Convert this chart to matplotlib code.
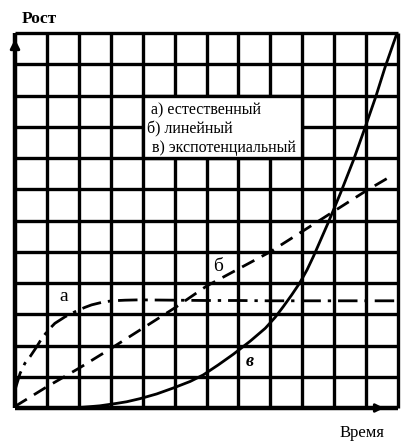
import matplotlib.pyplot as plt
from matplotlib.patches import Rectangle

plt.rcParams['font.family'] = ['Liberation Serif', 'DejaVu Serif']

# values (grid units, 12 x 12 cells)
natural_x = [0.0, 0.16, 0.31, 0.47, 0.68, 0.84, 1.05, 1.25, 1.57, 1.88, 2.19, 2.40, 2.72, 3.03, 3.45, 3.87,
             5, 6, 7, 8, 9, 10, 11, 12]
natural_y = [0.58, 1.11, 1.43, 1.64, 1.96, 2.23, 2.50, 2.71, 2.92, 3.08, 3.22, 3.30, 3.38, 3.43, 3.45, 3.46,
             3.45, 3.44, 3.44, 3.43, 3.43, 3.43, 3.43, 3.43]

linear_x = [0, 1, 2, 3, 4, 5, 6, 7, 8, 9, 10, 11, 11.75]
linear_y = [0.05, 0.68, 1.27, 1.90, 2.55, 3.20, 3.90, 4.45, 5.00, 5.65, 6.30, 6.95, 7.40]

expo_x = [0, 1.0, 2.09, 2.66, 3.2, 3.5, 3.92, 4.44, 4.96, 5.49, 5.9, 6.37, 6.84, 7.37, 7.84, 8.15,
          8.41, 8.67, 8.92, 9.15, 9.35, 9.8, 10.2, 10.6, 10.97, 11.3, 11.6, 11.97]
expo_y = [0, 0.0, 0.02, 0.07, 0.15, 0.20, 0.30, 0.45, 0.64, 0.85, 1.06, 1.38, 1.72, 2.14, 2.55, 2.90,
          3.25, 3.62, 4.0, 4.42, 4.85, 5.90, 6.88, 7.92, 8.98, 9.95, 10.92, 12.0]

legend_lines = ["а) естественный", "б) линейный", "в) экспотенциальный"]
n_cells = 12

fig = plt.figure(figsize=(4.13, 4.46), dpi=100)
ax = fig.add_axes([15 / 413, 38 / 446, 383 / 413, 375 / 446])
ax.set_xlim(0, n_cells)
ax.set_ylim(0, n_cells)
ax.axis("off")

# heavy hand-drawn style grid
ax.vlines(range(1, n_cells + 1), 0, n_cells, color="black", lw=2.4, clip_on=False, zorder=1)
ax.hlines(range(1, n_cells + 1), 0, n_cells, color="black", lw=2.4, clip_on=False, zorder=1)

# axes with arrows
ax.plot([0, 0], [0, n_cells], color="black", lw=3.2, clip_on=False, zorder=2, solid_capstyle="butt")
ax.plot([0, n_cells], [0, 0], color="black", lw=3.2, clip_on=False, zorder=2, solid_capstyle="butt")
ax.annotate("", xy=(0, 11.9), xytext=(0, 11.3),
            arrowprops=dict(arrowstyle="-|>", color="black", lw=2, mutation_scale=14), zorder=3)
ax.annotate("", xy=(11.65, 0), xytext=(11.1, 0),
            arrowprops=dict(arrowstyle="-|>", color="black", lw=2, mutation_scale=12), zorder=3)

# legend box cut out of the grid
ax.add_patch(Rectangle((4, 8), 5, 2, facecolor="white", edgecolor="black", lw=2.4, zorder=4))
legend_x = [4.26, 4.14, 4.29]
legend_y = [9.38, 8.80, 8.18]
for txt, lx, ly in zip(legend_lines, legend_x, legend_y):
    ax.text(lx, ly, txt, fontsize=11.5, va="baseline", ha="left", zorder=5)

# curves
ax.plot(natural_x, natural_y, color="black", lw=2.0, dashes=(7, 2.5, 1.2, 2.5), zorder=6)
ax.plot(linear_x, linear_y, color="black", lw=2.0, dashes=(5, 3), zorder=6)
ax.plot(expo_x, expo_y, color="black", lw=2.0, zorder=6, solid_joinstyle="round")

# curve labels
ax.text(1.54, 3.58, "а", fontsize=14, ha="center", va="center", zorder=7)
ax.text(6.36, 4.54, "б", fontsize=14, ha="center", va="center", zorder=7)
ax.text(7.34, 1.5, "в", fontsize=13, ha="center", va="center", fontweight="bold",
        fontstyle="italic", zorder=7)

fig.text(22 / 413, 1 - 23 / 446, "Рост", fontsize=12.5, fontweight="bold", va="baseline", ha="left")
fig.text(340 / 413, 1 - 437 / 446, "Время", fontsize=12, va="baseline", ha="left")

fig.savefig("out.png", dpi=100, facecolor="white")
